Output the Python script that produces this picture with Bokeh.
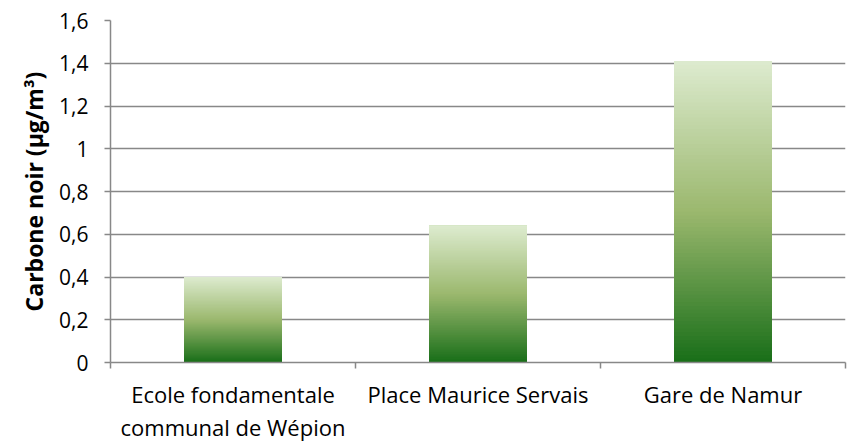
import numpy as np
from bokeh.plotting import figure
from bokeh.models import FixedTicker, CustomJSTickFormatter, ColumnDataSource, Range1d, Title
from bokeh.embed import file_html
from bokeh.resources import INLINE

categories = ["Ecole fondamentale\ncommunal de Wépion", "Place Maurice Servais", "Gare de Namur"]
values = [0.40, 0.64, 1.41]
y_ticks = [0, 0.2, 0.4, 0.6, 0.8, 1.0, 1.2, 1.4, 1.6]
y_title = "Carbone noir (µg/m³)"

FONT = "Open Sans"
GRAY = "#888888"

p = figure(width=848, height=444, output_backend="svg", toolbar_location=None,
           x_range=Range1d(0, len(categories)), y_range=Range1d(0, 1.6),
           min_border_left=110, min_border_right=3, min_border_top=20, min_border_bottom=80)
p.outline_line_color = None
p.background_fill_color = "white"
p.border_fill_color = "white"

# gradient bars built from stacked overlapping slices
stops_pos = [0.0, 0.5, 1.0]  # 0 = top of bar, 1 = bottom
stops_rgb = np.array([[221, 235, 207], [155, 184, 110], [24, 110, 24]], dtype=float)
N = 80
xs, bots, tops, cols = [], [], [], []
for i, v in enumerate(values):
    for k in range(N):
        frac = 1 - (k + 0.5) / N
        rgb = [np.interp(frac, stops_pos, stops_rgb[:, c]) for c in range(3)]
        xs.append(i + 0.5)
        bots.append(v * k / N)
        tops.append(v)
        cols.append("#%02x%02x%02x" % tuple(int(round(c)) for c in rgb))
src = ColumnDataSource(dict(x=xs, bottom=bots, top=tops, color=cols))
p.vbar(x="x", bottom="bottom", top="top", width=0.4, fill_color="color", line_color=None, source=src)

# y axis
p.yaxis.ticker = FixedTicker(ticks=y_ticks)
p.yaxis.formatter = CustomJSTickFormatter(code="return Number(tick.toFixed(1)).toString().replace('.', ',');")
p.yaxis.axis_line_color = GRAY
p.yaxis.axis_line_width = 1.5
p.yaxis.major_tick_line_color = GRAY
p.yaxis.major_tick_line_width = 1.5
p.yaxis.major_tick_out = 6
p.yaxis.major_tick_in = 0
p.yaxis.minor_tick_line_color = None
p.yaxis.major_label_standoff = 16
p.yaxis.major_label_text_font = FONT
p.yaxis.major_label_text_font_size = "21px"
p.yaxis.major_label_text_color = "black"

ytitle = Title(text=y_title, align="center", offset=0, standoff=13,
               text_font=FONT, text_font_size="23px", text_font_style="bold",
               text_color="black")
p.add_layout(ytitle, "left")

# x axis
p.xaxis.ticker = FixedTicker(ticks=[i + 0.5 for i in range(len(categories))],
                             minor_ticks=list(range(len(categories) + 1)))
p.xaxis.major_label_overrides = {i + 0.5: c for i, c in enumerate(categories)}
p.xaxis.axis_line_color = GRAY
p.xaxis.axis_line_width = 1.5
p.xaxis.major_tick_line_color = None
p.xaxis.minor_tick_line_color = GRAY
p.xaxis.minor_tick_line_width = 1.5
p.xaxis.minor_tick_out = 6
p.xaxis.minor_tick_in = 0
p.xaxis.major_tick_out = 0
p.xaxis.major_label_standoff = 10
p.xaxis.major_label_text_font = FONT
p.xaxis.major_label_text_font_size = "22px"
p.xaxis.major_label_text_color = "black"
p.xaxis.major_label_text_line_height = 1.1

p.xgrid.grid_line_color = None
p.ygrid.ticker = FixedTicker(ticks=y_ticks)
p.ygrid.grid_line_color = GRAY
p.ygrid.grid_line_width = 1.5

open("out.html", "w").write(file_html(p, INLINE))
